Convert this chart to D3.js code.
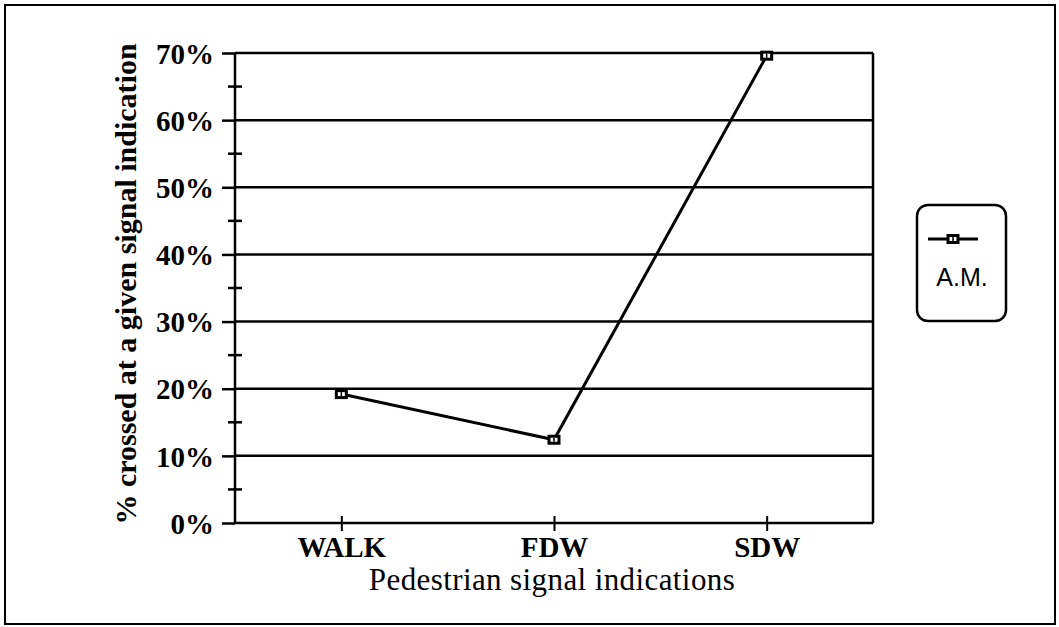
<!DOCTYPE html>
<html>
<head>
<meta charset="utf-8">
<script src="https://cdn.jsdelivr.net/npm/d3@7"></script>
<style>
  body { margin: 0; background: #fff; }
  text { fill: #000; }
</style>
</head>
<body>
<div id="chart"></div>
<script>
// signal indications and share crossing at each
let categories = ["WALK", "FDW", "SDW"];
let amValues = [0.192, 0.124, 0.696];
let yTicks = [0, 0.1, 0.2, 0.3, 0.4, 0.5, 0.6, 0.7];
let yMinorTicks = [0.05, 0.15, 0.25, 0.35, 0.45, 0.55, 0.65];
let seriesName = "A.M.";

let width = 1059;
let height = 627;
let margins = {
    top: 53,
    right: 186,
    bot: 104,
    left: 235
};
let chartWidth = width - margins.left - margins.right;
let chartHeight = height - margins.top - margins.bot;

let svg = d3.select("#chart")
    .append("svg")
    .attr("width", width)
    .attr("height", height);

// outer frame
svg.append("rect")
    .attr("x", 5)
    .attr("y", 5)
    .attr("width", 1050)
    .attr("height", 619)
    .attr("fill", "none")
    .attr("stroke", "#000")
    .attr("stroke-width", 2);

let g = svg.append("g")
    .attr("transform", "translate(" + margins.left + "," + margins.top + ")");

let xScale = d3.scalePoint()
    .domain(categories)
    .range([0, chartWidth])
    .padding(0.5);
let yScale = d3.scaleLinear()
    .domain([0, 0.7])
    .range([chartHeight, 0]);

// gridlines
g.selectAll(".grid")
    .data(yTicks.filter(d => d > 0))
    .enter()
    .append("line")
    .attr("class", "grid")
    .attr("x1", 0)
    .attr("x2", chartWidth)
    .attr("y1", d => yScale(d))
    .attr("y2", d => yScale(d))
    .attr("stroke", "#000")
    .attr("stroke-width", 2.5);

// right border of plot
g.append("line")
    .attr("x1", chartWidth)
    .attr("x2", chartWidth)
    .attr("y1", 0)
    .attr("y2", chartHeight)
    .attr("stroke", "#000")
    .attr("stroke-width", 2.5);

// y axis
let yAxis = g.append("g")
    .call(d3.axisLeft(yScale)
        .tickValues(yTicks)
        .tickFormat(d3.format(".0%"))
        .tickSize(13)
        .tickPadding(8));
yAxis.select(".domain").attr("stroke-width", 2.5).attr("d", "M0,0V" + chartHeight);
yAxis.selectAll(".tick line").attr("stroke-width", 2.5);
yAxis.selectAll("text")
    .attr("font-family", "'Liberation Serif', 'Times New Roman', serif")
    .attr("font-weight", "bold")
    .attr("font-size", 29)
    .attr("dy", "0.35em");

g.selectAll(".minor")
    .data(yMinorTicks)
    .enter()
    .append("line")
    .attr("class", "minor")
    .attr("x1", -7)
    .attr("x2", 7)
    .attr("y1", d => yScale(d))
    .attr("y2", d => yScale(d))
    .attr("stroke", "#000")
    .attr("stroke-width", 2.5);

// x axis
let xAxis = g.append("g")
    .attr("transform", "translate(0," + chartHeight + ")")
    .call(d3.axisBottom(xScale)
        .tickSize(0)
        .tickPadding(13));
xAxis.select(".domain").attr("stroke-width", 2.5).attr("d", "M0,0H" + chartWidth);
xAxis.selectAll(".tick line")
    .attr("y1", -7)
    .attr("y2", 8)
    .attr("stroke", "#000")
    .attr("stroke-width", 2);
xAxis.selectAll("text")
    .attr("font-family", "'Liberation Serif', 'Times New Roman', serif")
    .attr("font-weight", "bold")
    .attr("font-size", 29);

// axis titles
svg.append("text")
    .attr("transform", "translate(" + 136 + "," + (margins.top + chartHeight / 2 - 4) + ") rotate(-90)")
    .attr("text-anchor", "middle")
    .attr("font-family", "'Liberation Serif', 'Times New Roman', serif")
    .attr("font-weight", "bold")
    .attr("font-size", 30)
    .text("% crossed at a given signal indication");

svg.append("text")
    .attr("x", margins.left + chartWidth / 2 - 2)
    .attr("y", 590)
    .attr("text-anchor", "middle")
    .attr("font-family", "'Liberation Serif', 'Times New Roman', serif")
    .attr("font-size", 31)
    .attr("letter-spacing", 0.4)
    .text("Pedestrian signal indications");

// data line
let points = categories.map((c, i) => ({ cat: c, value: amValues[i] }));
g.append("path")
    .datum(points)
    .attr("fill", "none")
    .attr("stroke", "#000")
    .attr("stroke-width", 3)
    .attr("d", d3.line()
        .x(d => xScale(d.cat))
        .y(d => yScale(d.value)));

function marker(sel) {
    sel.append("rect")
        .attr("x", -6.5)
        .attr("y", -5)
        .attr("width", 13)
        .attr("height", 10)
        .attr("fill", "#000");
    sel.append("rect")
        .attr("x", -3.5)
        .attr("y", -2)
        .attr("width", 7)
        .attr("height", 4)
        .attr("fill", "#fff");
    sel.append("line")
        .attr("x1", 0)
        .attr("x2", 0)
        .attr("y1", -2)
        .attr("y2", 2)
        .attr("stroke", "#000")
        .attr("stroke-width", 1.5);
}

g.selectAll(".pt")
    .data(points)
    .enter()
    .append("g")
    .attr("class", "pt")
    .attr("transform", d => "translate(" + xScale(d.cat) + "," + yScale(d.value) + ")")
    .call(marker);

// legend
let legend = svg.append("g").attr("transform", "translate(917,205)");
legend.append("rect")
    .attr("width", 89)
    .attr("height", 116)
    .attr("rx", 11)
    .attr("fill", "#fff")
    .attr("stroke", "#000")
    .attr("stroke-width", 2.5);
legend.append("line")
    .attr("x1", 11)
    .attr("x2", 61)
    .attr("y1", 34)
    .attr("y2", 34)
    .attr("stroke", "#000")
    .attr("stroke-width", 3);
legend.append("g")
    .attr("transform", "translate(36,34)")
    .call(marker);
legend.append("text")
    .attr("x", 45)
    .attr("y", 81)
    .attr("text-anchor", "middle")
    .attr("font-family", "'Liberation Sans', Arial, sans-serif")
    .attr("font-size", 25)
    .text(seriesName);
</script>
</body>
</html>
